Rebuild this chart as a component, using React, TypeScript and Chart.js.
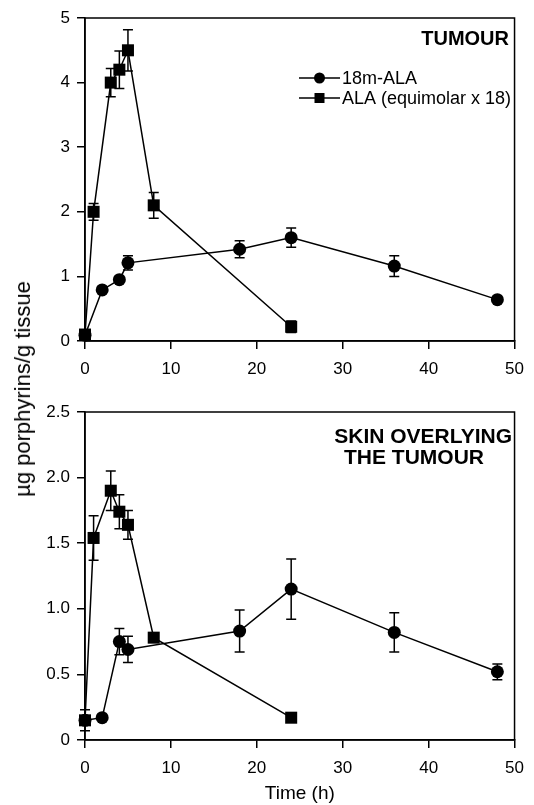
import React, { useEffect, useRef } from 'react';
import { Chart, registerables } from 'chart.js';

Chart.register(...registerables);

// ---------- data ----------
const seriesLabels = ['18m-ALA', 'ALA (equimolar x 18)'];
const xTickValues = [0, 10, 20, 30, 40, 50];
const tumourYTicks = [0, 1, 2, 3, 4, 5];
const skinYTicks = [0, 0.5, 1, 1.5, 2, 2.5];

const timesMALA = [0, 2, 4, 5, 18, 24, 36, 48];
const timesALA = [0, 1, 3, 4, 5, 8, 24];

const tumourMALA = [0.09, 0.79, 0.95, 1.21, 1.42, 1.6, 1.16, 0.64];
const tumourMALAErr = [0, 0, 0, 0.11, 0.13, 0.15, 0.16, 0];
const tumourALA = [0.1, 2.0, 4.0, 4.2, 4.5, 2.1, 0.22];
const tumourALAErr = [0, 0.13, 0.22, 0.29, 0.32, 0.2, 0.09];

const skinMALA = [0.15, 0.17, 0.75, 0.69, 0.83, 1.15, 0.82, 0.52];
const skinMALAErr = [0, 0, 0.1, 0.1, 0.16, 0.23, 0.15, 0.06];
const skinALA = [0.15, 1.54, 1.9, 1.74, 1.64, 0.78, 0.17];
const skinALAErr = [0.08, 0.17, 0.15, 0.13, 0.11, 0.03, 0];

const tumourTitle = ['TUMOUR'];
const skinTitle = ['SKIN OVERLYING', 'THE TUMOUR'];

const FONT = '"Liberation Sans", Arial, Helvetica, sans-serif';

// ---------- plugins ----------
const framePlugin = {
  id: 'frame',
  afterDraw(chart: any) {
    const { ctx, chartArea: a } = chart;
    ctx.save();
    ctx.strokeStyle = '#000';
    ctx.lineWidth = 1.5;
    ctx.strokeRect(a.left, a.top, a.right - a.left, a.bottom - a.top);
    ctx.restore();
  },
};

const errorBarPlugin = {
  id: 'errorBars',
  beforeDatasetsDraw(chart: any) {
    const { ctx } = chart;
    const x = chart.scales.x;
    const y = chart.scales.y;
    ctx.save();
    ctx.strokeStyle = '#000';
    ctx.lineWidth = 1.5;
    chart.data.datasets.forEach((ds: any) => {
      ds.data.forEach((pt: any, i: number) => {
        const e = ds.errors ? ds.errors[i] : 0;
        if (!e) return;
        const px = x.getPixelForValue(pt.x);
        const top = y.getPixelForValue(pt.y + e);
        const bot = y.getPixelForValue(pt.y - e);
        ctx.beginPath();
        ctx.moveTo(px, top);
        ctx.lineTo(px, bot);
        ctx.moveTo(px - 5, top);
        ctx.lineTo(px + 5, top);
        ctx.moveTo(px - 5, bot);
        ctx.lineTo(px + 5, bot);
        ctx.stroke();
      });
    });
    ctx.restore();
  },
};

const panelTextPlugin = {
  id: 'panelText',
  afterDraw(chart: any, _args: any, opts: any) {
    const { ctx } = chart;
    ctx.save();
    ctx.fillStyle = '#000';
    ctx.textBaseline = 'alphabetic';
    (opts.titles || []).forEach((t: any) => {
      ctx.font = `bold ${t.size}px ${FONT}`;
      ctx.textAlign = t.align;
      ctx.fillText(t.text, t.x, t.y);
    });
    if (opts.legend) {
      const L = opts.legend;
      ctx.font = `${L.size}px ${FONT}`;
      ctx.textAlign = 'left';
      ctx.textBaseline = 'middle';
      chart.data.datasets.forEach((ds: any, i: number) => {
        const yy = L.y + i * L.gap;
        ctx.strokeStyle = '#000';
        ctx.lineWidth = 1.5;
        ctx.beginPath();
        ctx.moveTo(L.x, yy);
        ctx.lineTo(L.x + L.len, yy);
        ctx.stroke();
        const cx = L.x + L.len / 2;
        ctx.beginPath();
        if (ds.pointStyle === 'rect') {
          ctx.rect(cx - 5, yy - 5, 10, 10);
        } else {
          ctx.arc(cx, yy, 5.5, 0, Math.PI * 2);
        }
        ctx.fill();
        ctx.fillText(ds.label, L.x + L.len + 2, yy + 1);
      });
    }
    ctx.restore();
  },
};

function pts(xs: number[], ys: number[]) {
  return xs.map((x, i) => ({ x, y: ys[i] }));
}

function makeConfig(p: any) {
  const axisCommon = {
    grid: {
      display: true,
      drawOnChartArea: false,
      drawTicks: true,
      tickLength: 8,
      color: '#000',
      lineWidth: 1.5,
    },
    border: { display: true, color: '#000', width: 1.5 },
  };
  return {
    type: 'line',
    data: {
      datasets: [
        {
          label: seriesLabels[0],
          data: pts(timesMALA, p.mala),
          errors: p.malaErr,
          borderColor: '#000',
          backgroundColor: '#000',
          borderWidth: 1.5,
          pointStyle: 'circle',
          pointRadius: 6.5,
          pointBorderWidth: 0,
          pointBackgroundColor: '#000',
          tension: 0,
          clip: false,
        },
        {
          label: seriesLabels[1],
          data: pts(timesALA, p.ala),
          errors: p.alaErr,
          borderColor: '#000',
          backgroundColor: '#000',
          borderWidth: 1.5,
          pointStyle: 'rect',
          pointRadius: 8.5,
          pointBorderWidth: 0,
          pointBackgroundColor: '#000',
          tension: 0,
          clip: false,
        },
      ],
    },
    options: {
      animation: false,
      responsive: false,
      events: [],
      layout: { padding: { top: p.padTop, right: 14, left: 0, bottom: 0 } },
      scales: {
        x: {
          type: 'linear',
          min: 0,
          max: 50,
          afterBuildTicks: (axis: any) => {
            axis.ticks = xTickValues.map((v) => ({ value: v }));
          },
          afterFit: (axis: any) => {
            axis.height = p.xAxisHeight;
          },
          ticks: {
            color: '#000',
            font: { size: 17, family: FONT },
            padding: 10,
            maxRotation: 0,
            callback: (v: any) => String(v),
          },
          title: p.xTitle
            ? {
                display: true,
                text: 'Time (h)',
                color: '#000',
                font: { size: 19, family: FONT },
                padding: { top: 0, bottom: 0 },
              }
            : { display: false },
          ...axisCommon,
        },
        y: {
          type: 'linear',
          min: 0,
          max: p.yMax,
          afterBuildTicks: (axis: any) => {
            axis.ticks = p.yTicks.map((v: number) => ({ value: v }));
          },
          afterFit: (axis: any) => {
            axis.width = 85;
          },
          ticks: {
            color: '#000',
            font: { size: 17, family: FONT },
            padding: 7,
            callback: (v: any) => (v === 0 ? '0' : p.yDecimals ? Number(v).toFixed(1) : String(v)),
          },
          ...axisCommon,
        },
      },
      plugins: {
        legend: { display: false },
        tooltip: { enabled: false },
        panelText: { titles: p.titles, legend: p.legend },
      },
    },
    plugins: [errorBarPlugin, framePlugin, panelTextPlugin],
  };
}

function ChartCanvas({ config, width, height }: any) {
  const ref = useRef<HTMLCanvasElement | null>(null);
  useEffect(() => {
    if (!ref.current) return;
    const chart = new Chart(ref.current, config);
    return () => chart.destroy();
  }, []);
  return <canvas ref={ref} width={width} height={height} style={{ display: 'block', width, height }} />;
}

export default function App() {
  const topConfig = makeConfig({
    mala: tumourMALA,
    malaErr: tumourMALAErr,
    ala: tumourALA,
    alaErr: tumourALAErr,
    yMax: 5,
    yTicks: tumourYTicks,
    yDecimals: false,
    padTop: 18,
    xAxisHeight: 49,
    xTitle: false,
    titles: tumourTitle.map((t) => ({ text: t, x: 509, y: 45, align: 'right', size: 20 })),
    legend: { x: 299, y: 78, gap: 20, len: 41, size: 18 },
  });
  const bottomConfig = makeConfig({
    mala: skinMALA,
    malaErr: skinMALAErr,
    ala: skinALA,
    alaErr: skinALAErr,
    yMax: 2.5,
    yTicks: skinYTicks,
    yDecimals: true,
    padTop: 22,
    xAxisHeight: 65,
    xTitle: true,
    titles: [
      { text: skinTitle[0], x: 512, y: 53, align: 'right', size: 21 },
      { text: skinTitle[1], x: 344, y: 74, align: 'left', size: 21 },
    ],
    legend: null,
  });
  return (
    <div style={{ position: 'absolute', left: 0, top: 0, width: 534, height: 805, background: '#fff' }}>
      <ChartCanvas config={topConfig} width={534} height={390} />
      <ChartCanvas config={bottomConfig} width={534} height={415} />
      <div
        style={{
          position: 'absolute',
          left: 23,
          top: 389,
          transform: 'translate(-50%, -50%) rotate(-90deg)',
          whiteSpace: 'nowrap',
          font: `22px ${FONT}`,
          color: '#000',
          lineHeight: 1,
        }}
      >
        µg porphyrins/g tissue
      </div>
    </div>
  );
}
